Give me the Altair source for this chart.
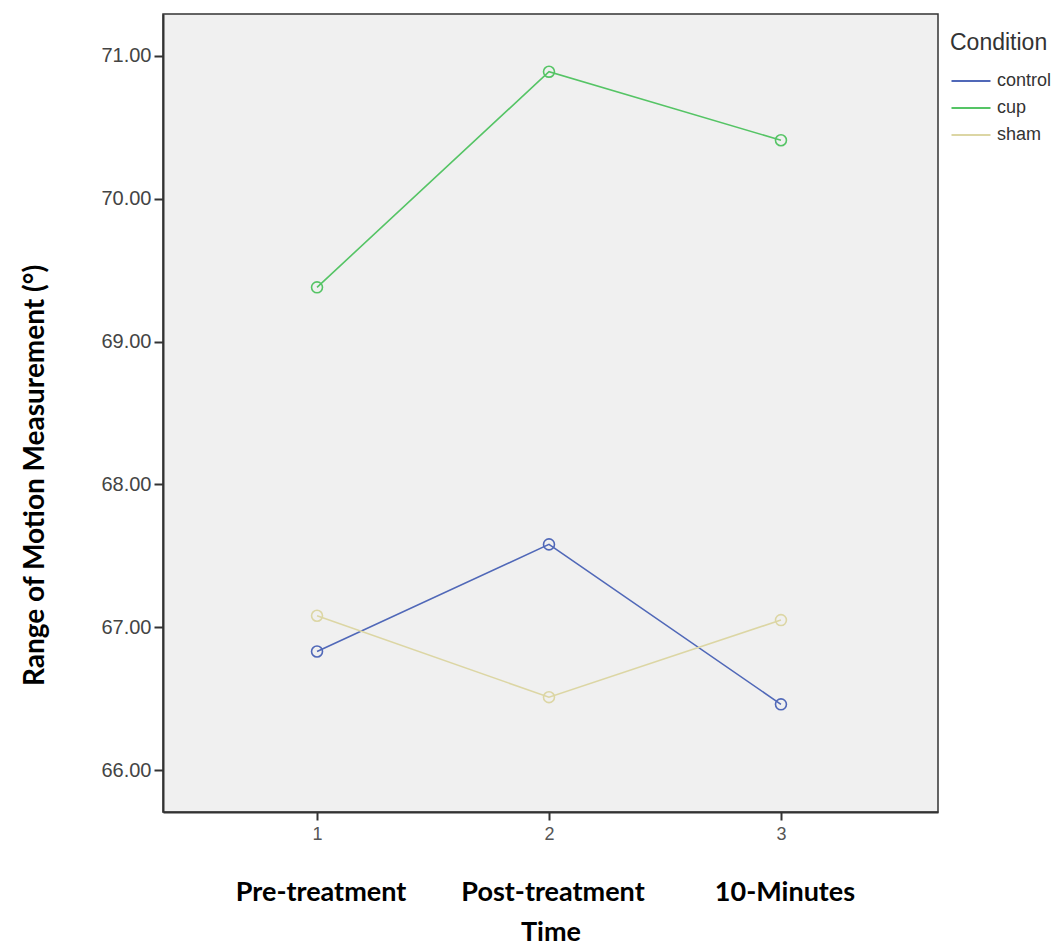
import altair as alt
import pandas as pd

times = [1, 2, 3]
time_names = ["Pre-treatment", "Post-treatment", "10-Minutes"]
conditions = ["control", "cup", "sham"]
control = [66.83, 67.58, 66.46]
cup = [69.38, 70.89, 70.41]
sham = [67.08, 66.51, 67.05]
colors = ["#5068b8", "#55c465", "#dcd6a4"]

rows = []
for cond, vals in zip(conditions, [control, cup, sham]):
    for t, v in zip(times, vals):
        rows.append({"Time": t, "Condition": cond, "Value": v})
df = pd.DataFrame(rows)
names_df = pd.DataFrame({"Time": times, "Name": time_names})

W, H = 775, 798
xscale = alt.Scale(domain=[0.336, 3.677], nice=False, zero=False)
yscale = alt.Scale(domain=[65.706, 71.294], nice=False, zero=False)
cscale = alt.Scale(domain=conditions, range=colors)

xaxis = alt.Axis(values=times, format="d", grid=False, title="Time",
                 labelFont="Liberation Sans", labelFontSize=18, labelColor="#555",
                 labelPadding=5, tickSize=8, tickWidth=2, tickColor="#333",
                 domainColor="#333", domainWidth=2,
                 titleFont="Lato", titleFontSize=27, titleFontWeight="bold",
                 titleColor="#000", titleY=120, titleBaseline="middle")
yaxis = alt.Axis(values=[66, 67, 68, 69, 70, 71], format=".2f", grid=False,
                 title="Range of Motion Measurement (°)",
                 labelFont="Liberation Sans", labelFontSize=20, labelColor="#444",
                 labelPadding=3, tickSize=9, tickWidth=2, tickColor="#333",
                 domainColor="#333", domainWidth=2,
                 titleFont="Lato", titleFontSize=28, titleFontWeight="bold",
                 titleColor="#000", titleX=-128, titleY=461, titleAngle=270,
                 titleAlign="center", titleBaseline="middle")

base = alt.Chart(df)
lines = base.mark_line(strokeWidth=1.6).encode(
    x=alt.X("Time:Q", scale=xscale, axis=xaxis),
    y=alt.Y("Value:Q", scale=yscale, axis=yaxis),
    color=alt.Color("Condition:N", scale=cscale,
                    legend=alt.Legend(title="Condition", orient="none",
                                      legendX=787, legendY=18,
                                      titleFont="Liberation Sans", titleFontSize=23,
                                      titleFontWeight="normal", titleColor="#333",
                                      titlePadding=17,
                                      labelFont="Liberation Sans", labelFontSize=18,
                                      labelColor="#333", labelOffset=29,
                                      symbolType="M-1,0H4.2", symbolSize=225,
                                      symbolStrokeWidth=2, rowPadding=9)),
)
points = base.mark_point(filled=False, size=120, strokeWidth=1.6, opacity=1).encode(
    x=alt.X("Time:Q", scale=xscale),
    y=alt.Y("Value:Q", scale=yscale),
    color=alt.Color("Condition:N", scale=cscale, legend=None),
)
names = alt.Chart(names_df).mark_text(font="Lato", fontSize=27, fontWeight="bold",
                                      color="#000", baseline="middle", dx=4).encode(
    x=alt.X("Time:Q", scale=xscale),
    y=alt.value(879),
    text="Name:N",
)

chart = alt.layer(lines, points, names).properties(
    width=W, height=H,
    background="white",
    autosize=alt.AutoSizeParams(type="none"),
    padding={"left": 155, "top": 6, "right": 115, "bottom": 137},
).configure_view(fill="#f0f0f0", stroke="#333", strokeWidth=1.5)

chart.save("out.html", embed_options={"renderer": "svg", "actions": False})
